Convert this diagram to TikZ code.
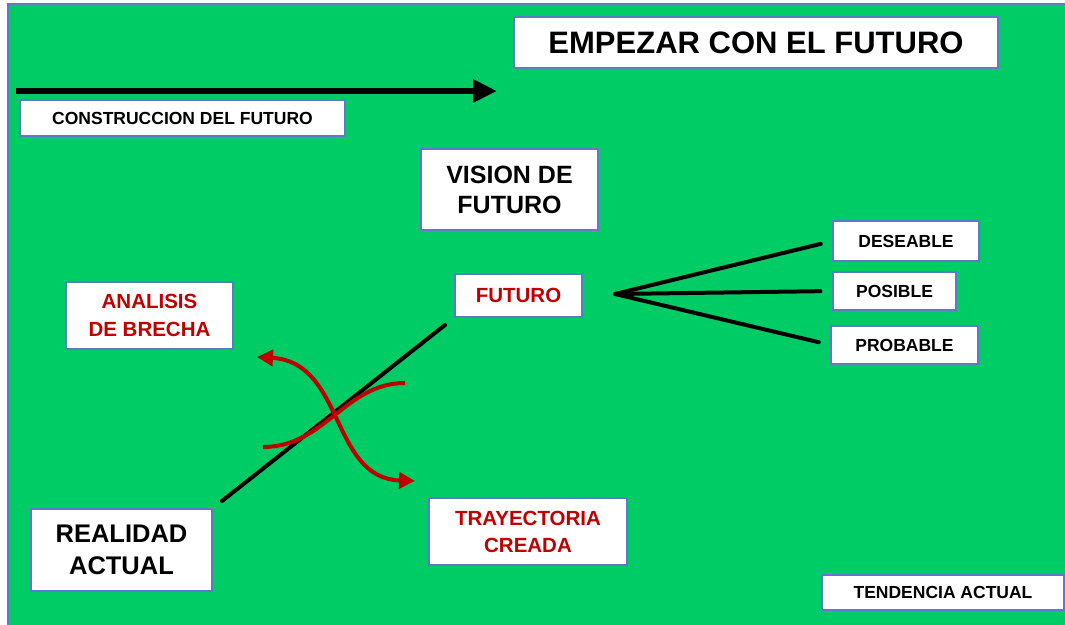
\documentclass[tikz,border=0pt]{standalone}
\usepackage{fontspec}
\setmainfont{Liberation Sans}
\usetikzlibrary{arrows.meta}
\definecolor{fondo}{HTML}{00CC66}
\definecolor{rojo}{HTML}{C00000}
\definecolor{borde}{HTML}{5B7BC7}

\begin{document}
\begin{tikzpicture}[x=1pt,y=-1pt,
	caja/.style={draw=borde,line width=1.1pt,fill=white,inner sep=0pt,align=center,font=\bfseries},
	chica/.style={caja,font=\bfseries\fontsize{17.5}{21}\selectfont},
	media/.style={caja,text=rojo,font=\bfseries\fontsize{20.5}{28}\selectfont},
	grande/.style={caja,font=\bfseries\fontsize{25.5}{32}\selectfont},
	linea/.style={line width=4pt,line cap=round},
	curva/.style={draw=rojo,line width=4pt}]
			\useasboundingbox (0,0) rectangle (1065,624);
			\fill[white] (0,0) rectangle (1065,624);
			\draw[fill=fondo,draw=borde,line width=1.5pt] (8,4) rectangle (1070,630);
			%Cuadros
			\node[caja,font=\bfseries\fontsize{31}{36}\selectfont,minimum width=484pt,minimum height=51pt] (empezar) at (756,42.5) {EMPEZAR CON EL FUTURO};
			\node[chica,minimum width=325pt,minimum height=36pt] (construccion) at (182.5,118) {CONSTRUCCION DEL FUTURO};
			\node[grande,font=\bfseries\fontsize{25}{30}\selectfont,minimum width=177pt,minimum height=81pt] (vision) at (509.5,189.5) {VISION DE\\FUTURO};
			\node[media,minimum width=127pt,minimum height=43pt] (futuro) at (518.5,295.5) {FUTURO};
			\node[media,minimum width=167pt,minimum height=67pt] (analisis) at (149.5,315.5) {ANALISIS\\DE BRECHA};
			\node[grande,minimum width=181pt,minimum height=82pt] (realidad) at (121.5,550) {REALIDAD\\ACTUAL};
			\node[media,font=\bfseries\fontsize{20.5}{27}\selectfont,minimum width=198pt,minimum height=67pt] (trayectoria) at (528,531.5) {TRAYECTORIA\\CREADA};
			\node[chica,minimum width=146pt,minimum height=40pt] (deseable) at (906,241) {DESEABLE};
			\node[chica,minimum width=123pt,minimum height=38pt] (posible) at (894.5,291) {POSIBLE};
			\node[chica,minimum width=147pt,minimum height=38pt] (probable) at (904.5,345) {PROBABLE};
			\node[chica,minimum width=242pt,minimum height=35pt] (tendencia) at (943,592.5) {TENDENCIA ACTUAL};
			%Flecha superior
			\coordinate (inicio) at (16,91);
			\coordinate (fin) at (497,91);
			\draw[line width=6.5pt,-{Triangle[length=24pt,width=22pt]}] (inicio) -- (fin);
			%Tendencia y abanico
			\draw[linea,shorten <=12pt,shorten >=12pt] (realidad.north east) -- (futuro.south west);
			\coordinate (vertice) at (615,294);
			\foreach \destino in {deseable,posible,probable}
			{\draw[linea,shorten >=12pt] (vertice) -- (\destino.west);}
			%Curvas rojas
			\coordinate (a1) at (263,447);
			\coordinate (a2) at (405,383);
			\coordinate (b1) at (257,357);
			\coordinate (b2) at (415,481);
			\draw[curva] (a1) .. controls (325,447) and (345,383) .. (a2);
			\draw[curva,{Triangle[length=16pt,width=16pt]}-{Triangle[length=16pt,width=16pt]}] (b1) .. controls (345,362) and (330,478) .. (b2);
			\end{tikzpicture}
\end{document}
